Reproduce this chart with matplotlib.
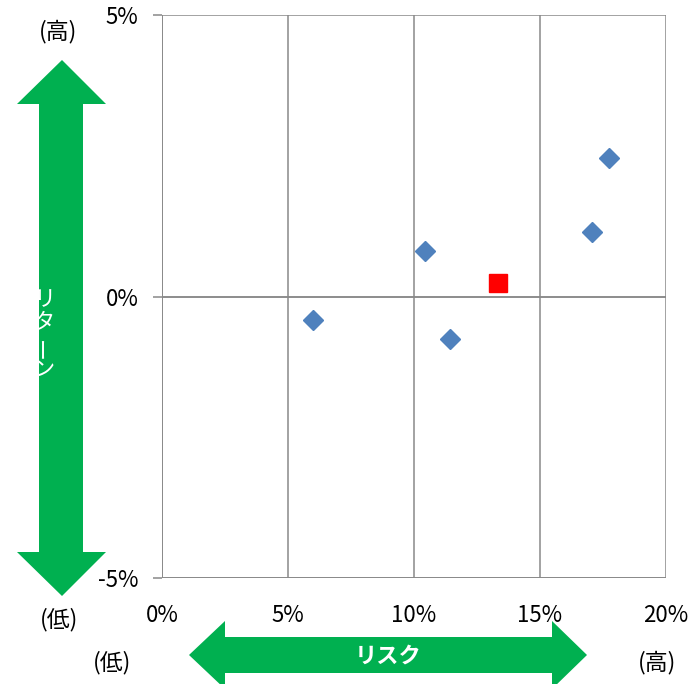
import numpy as np
import matplotlib.pyplot as plt
from matplotlib.patches import Polygon
from matplotlib.ticker import FuncFormatter

plt.rcParams['font.family'] = ['Noto Sans CJK JP', 'DejaVu Sans']

# --- Data (risk %, return %) ---
fund_risk = [17.75, 17.08, 10.42, 5.98, 11.44]
fund_return = [2.46, 1.14, 0.81, -0.42, -0.75]
target_risk = [13.35]
target_return = [0.24]

x_ticks = [0, 5, 10, 15, 20]
y_ticks = [-5, 0, 5]

W, H = 698, 684
GREEN = '#00B050'
GRID = '#898989'

fig = plt.figure(figsize=(W / 100, H / 100), dpi=100)
ax = fig.add_axes([162 / W, 1 - 578 / H, (666 - 162) / W, (578 - 15) / H])

ax.set_xlim(0, 20)
ax.set_ylim(-5, 5)
ax.set_xticks(x_ticks)
ax.set_yticks(y_ticks)
ax.xaxis.set_major_formatter(FuncFormatter(lambda v, p: f'{v:.0f}%'))
ax.yaxis.set_major_formatter(FuncFormatter(lambda v, p: f'{v:.0f}%'))
ax.grid(True, color=GRID, linewidth=1.1)
ax.axhline(0, color=GRID, linewidth=1.1, zorder=1)
for s in ax.spines.values():
    s.set_visible(False)
ax.axvline(0, color=GRID, linewidth=1.3, zorder=1)
ax.axhline(-5, color=GRID, linewidth=1.3, zorder=1)
ax.tick_params(axis='y', length=6.5, width=1.1, color=GRID, pad=10.5, labelsize=16)
ax.tick_params(axis='x', length=0, pad=18.5, labelsize=16)
ax.set_axisbelow(True)

ax.plot(fund_risk, fund_return, linestyle='none', marker='D', markersize=10.2,
        color='#4F81BD', markeredgecolor='#4F81BD', clip_on=False, zorder=3)
ax.plot(target_risk, target_return, linestyle='none', marker='s', markersize=13.5,
        color='#FF0000', markeredgecolor='#FF0000', clip_on=False, zorder=3)


# --- Arrows and labels drawn in figure pixels ---
def px(pts):
    return [(x / W, 1 - y / H) for x, y in pts]


v_arrow = [(62, 60), (106, 104), (83, 104), (83, 552), (106, 552), (62, 596),
           (17, 552), (39, 552), (39, 104), (17, 104)]
h_arrow = [(189, 655), (225, 621), (225, 637), (552, 637), (552, 621), (587, 655),
           (552, 689), (552, 673), (225, 673), (225, 689)]
for pts in (v_arrow, h_arrow):
    fig.patches.append(Polygon(px(pts), closed=True, facecolor=GREEN,
                               edgecolor='none', transform=fig.transFigure))

fig.text(388 / W, 1 - 656 / H, 'リスク', color='white', fontsize=16, fontweight='bold',
         ha='center', va='center')

# vertical "リターン", partly hanging off the left of the shaft
for ch, yy, rot in [('リ', 300, 0), ('タ', 323, 0), ('ー', 347, 90), ('ン', 369, 0)]:
    fig.text(44 / W, 1 - yy / H, ch, color='white', fontsize=16, rotation=rot,
             ha='center', va='center')

for txt, xx, yy in [('(高)', 58, 32), ('(低)', 59, 620), ('(低)', 112, 663), ('(高)', 657, 663)]:
    fig.text(xx / W, 1 - yy / H, txt, fontsize=16.5, ha='center', va='center')

plt.savefig('out.png', dpi=100)
